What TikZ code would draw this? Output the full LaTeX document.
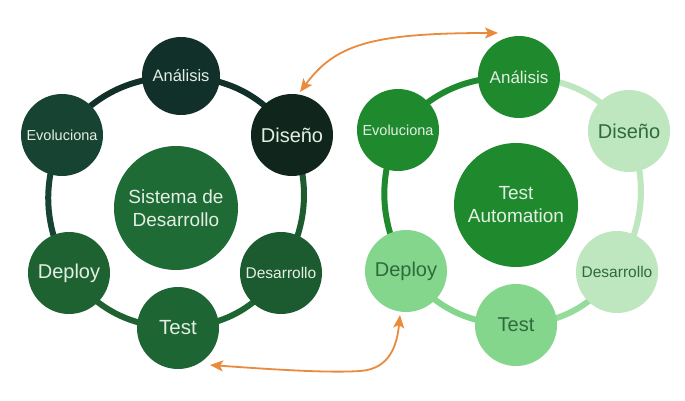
\documentclass[tikz,border=0pt]{standalone}
\usepackage{fontspec}
\setmainfont{Liberation Sans}
\usetikzlibrary{arrows.meta,backgrounds}
\definecolor{lAc}{HTML}{12302A}
\definecolor{lDc}{HTML}{10261D}
\definecolor{lEc}{HTML}{174333}
\definecolor{lPc}{HTML}{1E6232}
\definecolor{lRc}{HTML}{1C5B2F}
\definecolor{lTc}{HTML}{1D6532}
\definecolor{lCc}{HTML}{1E6B35}
\definecolor{rMc}{HTML}{1F8A2D}
\definecolor{rL1}{HTML}{BEE6BF}
\definecolor{rL2}{HTML}{84D68C}
\definecolor{txtL}{HTML}{E4EFE4}
\definecolor{txtD}{HTML}{2E6A3C}
\definecolor{orng}{HTML}{EA8A3D}
\tikzset{
  circ/.style={circle, minimum size=82pt, inner sep=0pt, align=center},
  bigcirc/.style={circle, minimum size=124pt, inner sep=0pt, align=center},
  ring/.style={line width=6pt},
  arr/.style={draw=orng, line width=1.8pt, {Stealth[length=13pt,width=11pt,inset=3pt]}-{Stealth[length=13pt,width=11pt,inset=3pt]}},
}
\newcommand{\fs}[1]{\fontsize{#1}{#1}\selectfont}
\begin{document}
\begin{tikzpicture}[x=1pt,y=-1pt]
\useasboundingbox (0,0) rectangle (685,401);
% left cycle
\node[circ, fill=lAc, text=txtL, minimum size=78pt, font=\fs{16.5}] (lA) at (181,76) {Análisis};
\node[circ, fill=lDc, text=txtL, font=\fs{20}] (lD) at (292,135) {Diseño};
\node[circ, fill=lEc, text=txtL, font=\fs{14.5}] (lE) at (62,135) {Evoluciona};
\node[circ, fill=lPc, text=txtL, font=\fs{20}] (lP) at (69,273) {Deploy};
\node[circ, fill=lRc, text=txtL, font=\fs{15.5}] (lR) at (281,273) {Desarrollo};
\node[circ, fill=lTc, text=txtL, font=\fs{20.5}] (lT) at (178,328) {Test};
\node[bigcirc, fill=lCc, text=txtL, font=\fontsize{19}{23}\selectfont] (lC) at (176,208) {Sistema de\\Desarrollo};
% right cycle
\node[circ, fill=rMc, text=txtL, font=\fs{17}] (rA) at (519,77) {Análisis};
\node[circ, fill=rL1, text=txtD, font=\fs{20}] (rD) at (629,131) {Diseño};
\node[circ, fill=rMc, text=txtL, font=\fs{14.5}] (rE) at (398,130) {Evoluciona};
\node[circ, fill=rL2, text=txtD, font=\fs{20}] (rP) at (406,271) {Deploy};
\node[circ, fill=rL1, text=txtD, font=\fs{15.5}] (rR) at (617,272) {Desarrollo};
\node[circ, fill=rL2, text=txtD, font=\fs{20}] (rT) at (516,325) {Test};
\node[bigcirc, fill=rMc, text=txtL, font=\fontsize{19}{23}\selectfont] (rC) at (516,205) {Test\\Automation};
\begin{pgfonlayer}{background}
\fill[white] (0,0) rectangle (685,401);
\draw[ring, lAc] (lE.center) to[bend left=25] (lA.center);
\draw[ring, lAc] (lA.center) to[bend left=25] (lD.center);
\draw[ring, lRc] (lD.center) to[bend left=25] (lR.center);
\draw[ring, lTc] (lR.center) to[bend left=25] (lT.center);
\draw[ring, lPc] (lT.center) to[bend left=25] (lP.center);
\draw[ring, lEc] (lP.center) to[bend left=25] (lE.center);
\draw[ring, rMc] (rE.center) to[bend left=25] (rA.center);
\draw[ring, rL1] (rA.center) to[bend left=25] (rD.center);
\draw[ring, rL1] (rD.center) to[bend left=25] (rR.center);
\draw[ring, rL2!70!rL1] (rR.center) to[bend left=25] (rT.center);
\draw[ring, rL2] (rT.center) to[bend left=25] (rP.center);
\draw[ring, rMc] (rP.center) to[bend left=25] (rE.center);
\end{pgfonlayer}
% orange arrows
\coordinate (a1s) at (300,92);
\coordinate (a1e) at (498,33);
\coordinate (a2s) at (210,365);
\coordinate (a2e) at (400,315);
\draw[arr] (a1s) .. controls (335,45) and (370,33) .. (a1e);
\draw[arr] (a2s) .. controls (280,370) and (330,373) .. (360,371) .. controls (390,369) and (397,345) .. (a2e);
\end{tikzpicture}
\end{document}
